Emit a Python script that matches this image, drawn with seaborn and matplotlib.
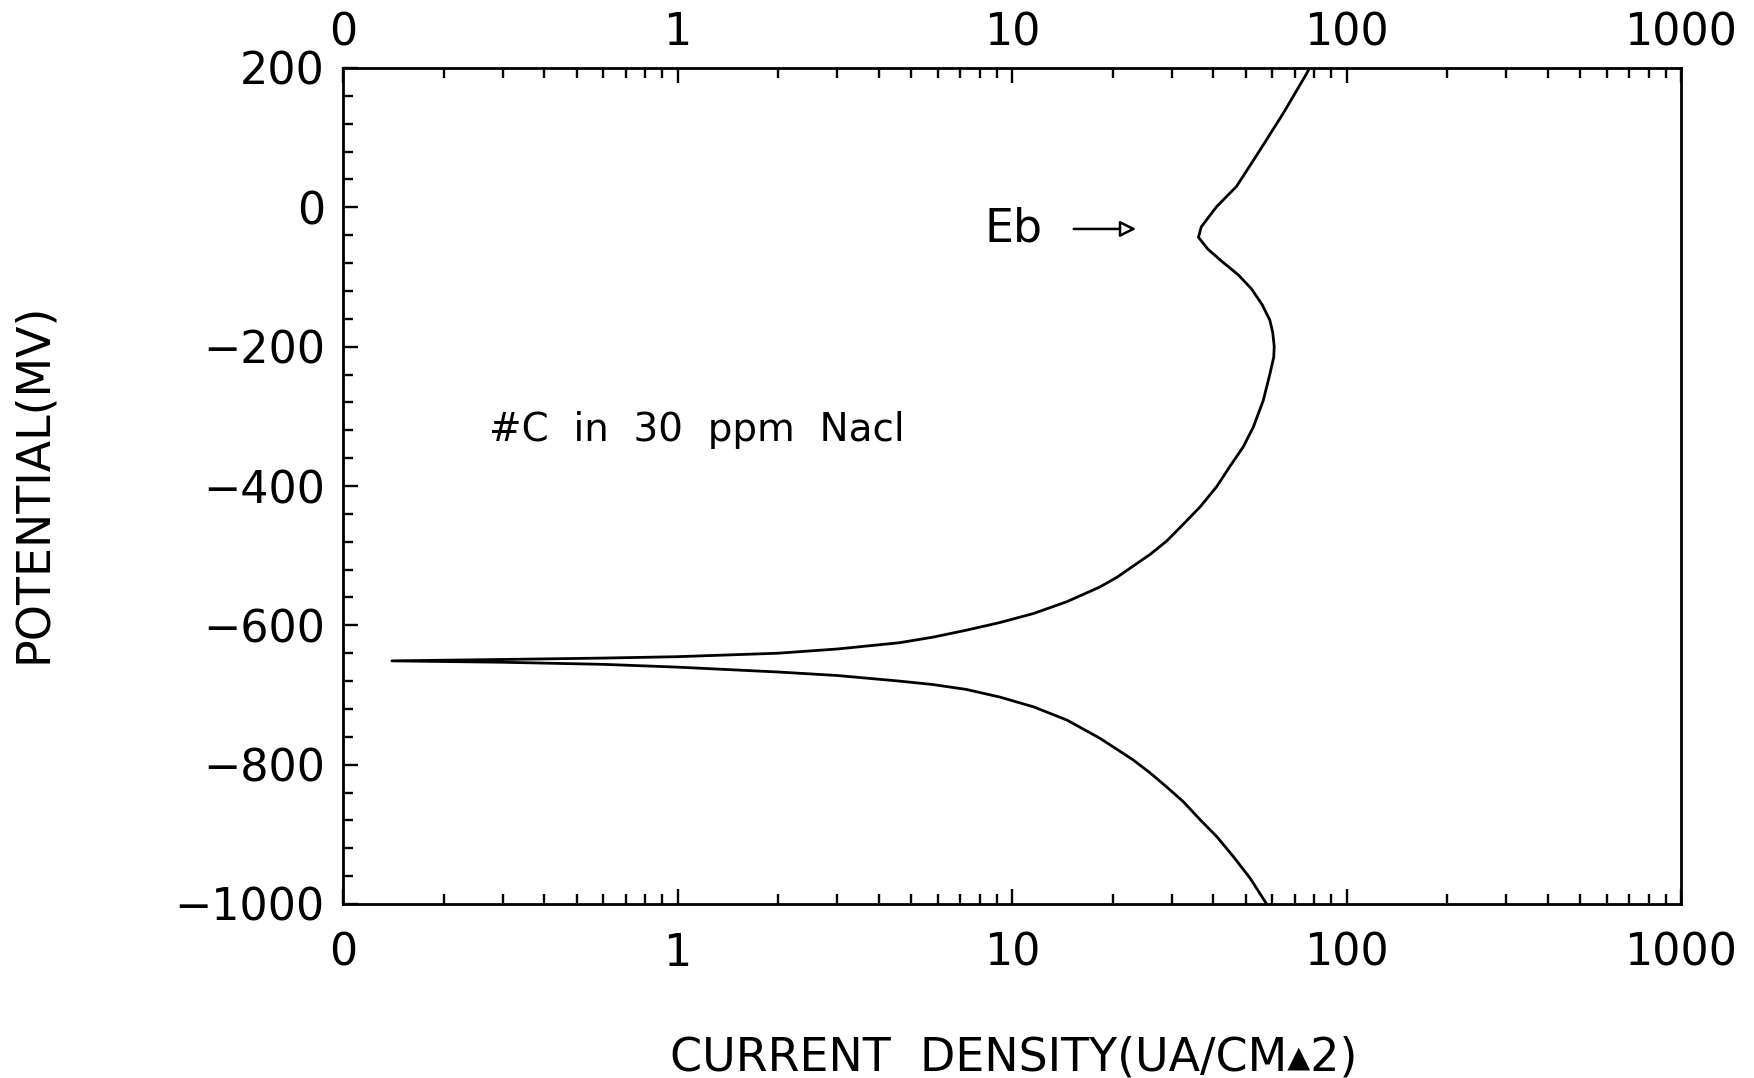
import matplotlib
matplotlib.use("Agg")
import matplotlib.pyplot as plt
import numpy as np
import pandas as pd
import seaborn as sns
from matplotlib.ticker import FixedLocator, FixedFormatter, LogLocator, MultipleLocator, NullFormatter

# Cathodic branch: from -1000 mV up to the corrosion potential
cathodic_current = [57.7, 51.5, 45.9, 40.9, 36.5, 32.5, 29.0, 25.9, 23.0, 18.3, 14.6,
                    11.6, 9.2, 7.3, 5.8, 4.6, 3.0, 2.0, 1.0, 0.6, 0.3, 0.14]
cathodic_potential = [-1000, -963, -932, -903, -879, -853, -832, -812, -793, -762, -736,
                      -717, -703, -692, -685, -680, -672, -667, -660, -656, -653, -651]

# Anodic branch: from the corrosion potential up to +200 mV (passes through Eb)
anodic_current = [0.14, 0.3, 0.6, 1.0, 2.0, 3.0, 4.6, 5.8, 7.3, 9.2, 11.6, 14.6, 18.3, 20.6,
                  25.9, 29.0, 32.5, 36.5, 40.9, 44.8, 49.1, 52.7, 56.4, 59.1, 60.6, 60.8,
                  60.2, 59.0, 56.0, 52.0, 47.5, 42.5, 38.5, 36.1, 36.8, 40.9, 46.9, 55.1,
                  64.7, 76.0, 77.5]
anodic_potential = [-651, -649, -647, -645, -640, -634, -625, -617, -607, -596, -583, -566,
                    -545, -531, -498, -479, -455, -430, -401, -372, -344, -315, -277, -238,
                    -215, -200, -180, -162, -140, -117, -97, -78, -60, -43, -28, 1, 30, 82,
                    135, 192, 200]

x_ticks = [0.1, 1, 10, 100, 1000]
x_tick_labels = ["0", "1", "10", "100", "1000"]
y_ticks = [200, 0, -200, -400, -600, -800, -1000]
y_tick_labels = ["200", "0", "\u2212200", "\u2212400", "\u2212600", "\u2212800", "\u22121000"]

sample_label = "#C  in  30  ppm  Nacl"
eb_label = "Eb"
eb_potential = -31

curve = pd.DataFrame({
    "current": cathodic_current + anodic_current,
    "potential": cathodic_potential + anodic_potential,
})

sns.set_theme(style="white")
plt.rcParams["font.family"] = ["DejaVu Sans"]

fig = plt.figure(figsize=(17.54, 10.78), dpi=100)
ax = fig.add_axes([343 / 1754, 1 - 904 / 1078, (1681 - 343) / 1754, (904 - 68) / 1078])
ax.set_xscale("log")

sns.lineplot(data=curve, x="current", y="potential", sort=False, estimator=None,
             color="black", linewidth=2.0, ax=ax)

ax.set_xlim(0.1, 1000)
ax.set_ylim(-1000, 200)

for side in ["left", "right", "top", "bottom"]:
    ax.spines[side].set_visible(True)
    ax.spines[side].set_color("black")
    ax.spines[side].set_linewidth(2.0)

# x axis (bottom)
ax.xaxis.set_major_locator(FixedLocator(x_ticks))
ax.xaxis.set_major_formatter(FixedFormatter(x_tick_labels))
ax.xaxis.set_minor_locator(LogLocator(base=10, subs=np.arange(2, 10)))
ax.xaxis.set_minor_formatter(NullFormatter())

# y axis
ax.yaxis.set_major_locator(FixedLocator(y_ticks))
ax.yaxis.set_major_formatter(FixedFormatter(y_tick_labels))
ax.yaxis.set_minor_locator(MultipleLocator(40))

ax.tick_params(axis="x", which="both", direction="in", bottom=True, top=False,
               labelsize=32, colors="black", width=1.7)
ax.tick_params(axis="x", which="major", length=11, pad=20)
ax.tick_params(axis="x", which="minor", length=7)
ax.tick_params(axis="y", which="both", direction="in", left=True, right=False,
               labelsize=32, colors="black", width=1.7)
ax.tick_params(axis="y", which="major", length=11, pad=13)
ax.tick_params(axis="y", which="minor", length=7)

# top axis mirrors the current density scale
top = ax.twiny()
top.set_xscale("log")
top.set_xlim(ax.get_xlim())
top.xaxis.set_major_locator(FixedLocator(x_ticks))
top.xaxis.set_major_formatter(FixedFormatter(x_tick_labels))
top.xaxis.set_minor_locator(LogLocator(base=10, subs=np.arange(2, 10)))
top.xaxis.set_minor_formatter(NullFormatter())
top.tick_params(axis="x", which="both", direction="in", top=True, bottom=False,
                labeltop=True, labelbottom=False, labelsize=32, colors="black", width=1.7)
top.tick_params(axis="x", which="major", length=11, pad=10)
top.tick_params(axis="x", which="minor", length=7)
for side in ["left", "right", "top", "bottom"]:
    top.spines[side].set_visible(False)

ax.set_xlabel("CURRENT  DENSITY(UA/CM\u25b42)", fontsize=33, color="black")
ax.set_ylabel("POTENTIAL(MV)", fontsize=33, color="black")
ax.xaxis.set_label_coords(0.5015, -0.157)
ax.yaxis.set_label_coords(-0.2145, 0.5036)

ax.text(0.273, -320, sample_label, fontsize=28, ha="left", va="center", color="black")
ax.text(8.25, eb_potential, eb_label, fontsize=33, ha="left", va="center", color="black")
ax.annotate("", xy=(23.5, eb_potential), xytext=(15.3, eb_potential),
            arrowprops=dict(arrowstyle="-|>", fc="white", ec="black", lw=1.8,
                            mutation_scale=24, shrinkA=0, shrinkB=0))

fig.savefig("out.png", dpi=100, facecolor="white")
